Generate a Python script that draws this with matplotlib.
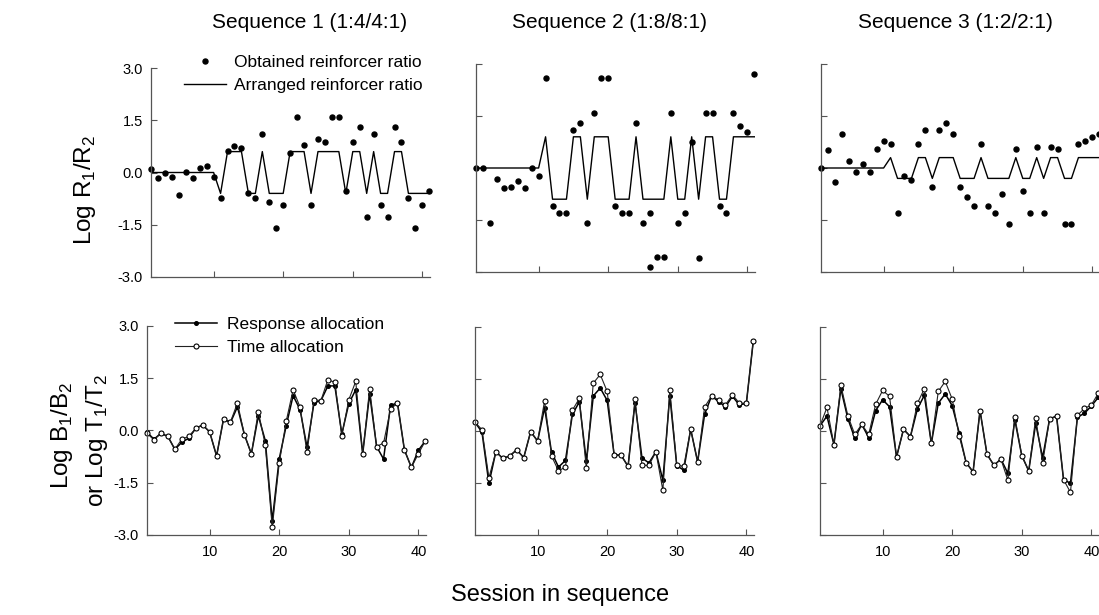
import numpy as np
import matplotlib
matplotlib.use('Agg')
import matplotlib.pyplot as plt
from matplotlib.lines import Line2D

plt.rcParams['font.family'] = ['Liberation Sans', 'DejaVu Sans']
plt.rcParams['mathtext.fontset'] = 'custom'
plt.rcParams['mathtext.rm'] = 'Liberation Sans'

# ---- data ----
sessions = np.arange(1, 42)
x_ticks = [10, 20, 30, 40]
y_ticks = [-3.0, -1.5, 0.0, 1.5, 3.0]
y_tick_labels = ['-3.0', '-1.5', '0.0', '1.5', '3.0']
titles = ['Sequence 1 (1:4/4:1)', 'Sequence 2 (1:8/8:1)', 'Sequence 3 (1:2/2:1)']

# arranged reinforcer ratios (log)
arranged_1 = [0.0, 0.0, 0.0, 0.0, 0.0, 0.0, 0.0, 0.0, 0.0, 0.0,
              -0.6, 0.6, 0.6, 0.6, -0.6, -0.6, 0.6, -0.6, -0.6, -0.6,
              0.6, 0.6, 0.6, -0.6, 0.6, 0.6, 0.6, 0.6, -0.6, 0.6,
              0.6, -0.6, 0.6, -0.6, -0.6, 0.6, 0.6, -0.6, -0.6, -0.6, -0.6]
arranged_2 = [0.0, 0.0, 0.0, 0.0, 0.0, 0.0, 0.0, 0.0, 0.0, 0.0,
              0.9, -0.9, -0.9, -0.9, 0.9, 0.9, -0.9, 0.9, 0.9, 0.9,
              -0.9, -0.9, -0.9, 0.9, -0.9, -0.9, -0.9, -0.9, 0.9, -0.9,
              -0.9, 0.9, -0.9, 0.9, 0.9, -0.9, -0.9, 0.9, 0.9, 0.9, 0.9]
arranged_3 = [0.0, 0.0, 0.0, 0.0, 0.0, 0.0, 0.0, 0.0, 0.0, 0.0,
              0.3, -0.3, -0.3, -0.3, 0.3, 0.3, -0.3, 0.3, 0.3, 0.3,
              -0.3, -0.3, -0.3, 0.3, -0.3, -0.3, -0.3, -0.3, 0.3, -0.3,
              -0.3, 0.3, -0.3, 0.3, 0.3, -0.3, -0.3, 0.3, 0.3, 0.3, 0.3]

# obtained reinforcer ratios (log)
obtained_1 = [0.11, -0.16, -0.02, -0.12, -0.65, 0.01, -0.16, 0.13, 0.20, -0.12,
              -0.74, 0.62, 0.77, 0.69, -0.59, -0.74, 1.10, -0.84, -1.59, -0.94,
              0.56, 1.60, 0.78, -0.94, 0.97, 0.88, 1.60, 1.60, -0.53, 0.88,
              1.32, -1.29, 1.10, -0.94, -1.29, 1.32, 0.88, -0.74, -1.59, -0.94, -0.53]
obtained_2 = [0.0, 0.0, -1.60, -0.31, -0.59, -0.55, -0.37, -0.59, 0.0, -0.22,
              2.60, -1.10, -1.29, -1.29, 1.10, 1.30, -1.60, 1.59, 2.60, 2.60,
              -1.10, -1.29, -1.29, 1.30, -1.60, -1.29, -2.58, -2.58, 1.59, -1.60,
              -1.29, 0.75, -2.60, 1.59, 1.59, -1.10, -1.30, 1.60, 1.20, 1.05, 2.70]
extra_sessions_2 = [26]
extra_obtained_2 = [-2.85]
obtained_3 = [0.0, 0.51, -0.40, 0.98, 0.20, -0.11, 0.12, -0.11, 0.56, 0.77,
              0.69, -1.29, -0.24, -0.36, 0.69, 1.11, -0.54, 1.11, 1.30, 0.97,
              -0.54, -0.85, -1.10, 0.69, -1.10, -1.29, -0.74, -1.61, 0.56, -0.66,
              -1.29, 0.62, -1.29, 0.62, 0.56, -1.61, -1.61, 0.69, 0.77, 0.88, 0.97]

# response allocation log(B1/B2) and time allocation log(T1/T2)
response_1 = [-0.05, -0.25, -0.08, -0.17, -0.54, -0.34, -0.22, 0.06, 0.16, -0.04,
              -0.73, 0.33, 0.23, 0.68, -0.12, -0.67, 0.42, -0.29, -2.60, -0.82,
              0.13, 1.00, 0.60, -0.48, 0.79, 0.86, 1.28, 1.28, -0.10, 0.77,
              1.17, -0.67, 1.05, -0.46, -0.82, 0.72, 0.79, -0.56, -1.06, -0.57, -0.30]
time_1 = [-0.08, -0.27, -0.08, -0.17, -0.54, -0.25, -0.17, 0.06, 0.16, -0.04,
          -0.73, 0.33, 0.25, 0.79, -0.12, -0.67, 0.54, -0.42, -2.78, -0.94,
          0.26, 1.17, 0.67, -0.63, 0.88, 0.86, 1.46, 1.38, -0.15, 0.88,
          1.41, -0.67, 1.20, -0.46, -0.36, 0.61, 0.79, -0.56, -1.06, -0.67, -0.30]
response_2 = [0.25, -0.03, -1.51, -0.60, -0.79, -0.72, -0.54, -0.77, -0.02, -0.29,
              0.67, -0.61, -1.04, -0.85, 0.48, 0.84, -0.87, 1.01, 1.24, 0.88,
              -0.69, -0.70, -1.02, 0.81, -0.78, -0.92, -0.60, -1.42, 1.02, -1.00,
              -1.13, 0.05, -0.89, 0.48, 1.01, 0.85, 0.70, 1.00, 0.75, 0.80, 2.60]
time_2 = [0.25, 0.04, -1.35, -0.60, -0.79, -0.72, -0.54, -0.77, -0.02, -0.29,
          0.87, -0.72, -1.15, -1.04, 0.60, 0.94, -1.07, 1.38, 1.63, 1.14,
          -0.69, -0.70, -1.02, 0.91, -0.99, -0.99, -0.60, -1.71, 1.19, -0.99,
          -1.02, 0.05, -0.89, 0.69, 1.01, 0.90, 0.75, 1.05, 0.80, 0.80, 2.60]
response_3 = [0.15, 0.43, -0.39, 1.22, 0.36, -0.21, 0.19, -0.19, 0.59, 0.90,
              0.70, -0.75, 0.05, -0.16, 0.64, 1.03, -0.36, 0.80, 1.07, 0.73,
              -0.05, -0.91, -1.18, 0.59, -0.67, -0.99, -0.81, -1.22, 0.32, -0.71,
              -1.15, 0.22, -0.77, 0.35, 0.43, -1.40, -1.51, 0.40, 0.51, 0.72, 0.97]
time_3 = [0.15, 0.68, -0.39, 1.32, 0.44, -0.10, 0.19, -0.10, 0.77, 1.17,
          1.00, -0.75, 0.05, -0.16, 0.80, 1.22, -0.36, 1.14, 1.43, 0.92,
          -0.14, -0.91, -1.18, 0.59, -0.67, -0.99, -0.81, -1.42, 0.41, -0.71,
          -1.15, 0.37, -0.92, 0.35, 0.43, -1.40, -1.77, 0.45, 0.65, 0.75, 1.09]

arranged = [arranged_1, arranged_2, arranged_3]
obtained = [obtained_1, obtained_2, obtained_3]
responses = [response_1, response_2, response_3]
times = [time_1, time_2, time_3]

# ---- layout (pixel boxes: left, top, bottom) ----
W, H = 1099, 615
top_boxes = [(151, 68, 277), (476, 64, 272), (821, 64, 272)]
bot_boxes = [(147, 326, 535), (475, 327, 535), (820, 327, 535)]
panel_w = 279

fig = plt.figure(figsize=(W / 100, H / 100), dpi=100)


def make_axes(box, first_col, bottom_row):
    x0, yt, yb = box
    ax = fig.add_axes([x0 / W, 1 - yb / H, panel_w / W, (yb - yt) / H])
    ax.set_xlim(1, 41.1)
    ax.set_ylim(-3, 3)
    for s in ['top', 'right']:
        ax.spines[s].set_visible(False)
    for s in ['left', 'bottom']:
        ax.spines[s].set_color('#555555')
        ax.spines[s].set_linewidth(0.9)
    ax.set_xticks(x_ticks)
    ax.set_yticks(y_ticks)
    ax.tick_params(direction='in', length=4.5, width=0.8, color='#555555',
                   labelsize=10.5)
    ax.tick_params(axis='x', pad=7)
    ax.tick_params(axis='y', pad=6)
    if first_col:
        ax.set_yticklabels(y_tick_labels)
    else:
        ax.set_yticklabels([])
    if not bottom_row:
        ax.set_xticklabels([])
    return ax


for i in range(3):
    ax = make_axes(top_boxes[i], i == 0, False)
    ax.plot(sessions, arranged[i], color='k', lw=1.0)
    ax.plot(sessions, obtained[i], 'o', color='k', ms=3.6, clip_on=False)
    if i == 1:
        ax.plot(extra_sessions_2, extra_obtained_2, 'o', color='k', ms=3.6, clip_on=False)
    if i == 0:
        h1 = Line2D([], [], marker='o', ls='none', color='k', ms=3.6)
        h2 = Line2D([], [], color='k', lw=1.0)
        ax.legend([h1, h2], ['Obtained reinforcer ratio', 'Arranged reinforcer ratio'],
                  loc='upper left', bbox_to_anchor=(184 / W, 1 - 55 / H),
                  bbox_transform=fig.transFigure, frameon=False, fontsize=12.5,
                  handlelength=2.4, handletextpad=0.5, labelspacing=0.45,
                  borderpad=0, borderaxespad=0)

for i in range(3):
    ax = make_axes(bot_boxes[i], i == 0, True)
    ax.plot(sessions, responses[i], color='k', lw=1.1, marker='o', ms=2.6,
            mfc='k', mec='k', clip_on=False)
    ax.plot(sessions, times[i], color='#222222', lw=0.8, marker='o', ms=3.6,
            mfc='white', mec='k', mew=0.8, clip_on=False)
    if i == 0:
        h1 = Line2D([], [], color='k', lw=1.1, marker='o', ms=2.6, mfc='k')
        h2 = Line2D([], [], color='#222222', lw=0.8, marker='o', ms=3.6,
                    mfc='white', mec='k', mew=0.8)
        ax.legend([h1, h2], ['Response allocation', 'Time allocation'],
                  loc='upper left', bbox_to_anchor=(175 / W, 1 - 317 / H),
                  bbox_transform=fig.transFigure, frameon=False, fontsize=12.5,
                  handlelength=2.4, handletextpad=0.6, labelspacing=0.45,
                  borderpad=0, borderaxespad=0, numpoints=1)

# ---- texts ----
title_x = [310, 610, 955]
for tx, t in zip(title_x, titles):
    fig.text(tx / W, 1 - 22 / H, t, ha='center', va='center', fontsize=15)

fig.text(85 / W, 1 - 190 / H, r'Log R$_\mathregular{1}$/R$_\mathregular{2}$',
         rotation=90, ha='center', va='center', fontsize=17.5)
fig.text(62 / W, 1 - 435 / H, r'Log B$_\mathregular{1}$/B$_\mathregular{2}$',
         rotation=90, ha='center', va='center', fontsize=17.5)
fig.text(97 / W, 1 - 440 / H, r'or Log T$_\mathregular{1}$/T$_\mathregular{2}$',
         rotation=90, ha='center', va='center', fontsize=17.5)
fig.text(560 / W, 1 - 595 / H, 'Session in sequence', ha='center', va='center',
         fontsize=17)

fig.savefig('out.png', dpi=100)
